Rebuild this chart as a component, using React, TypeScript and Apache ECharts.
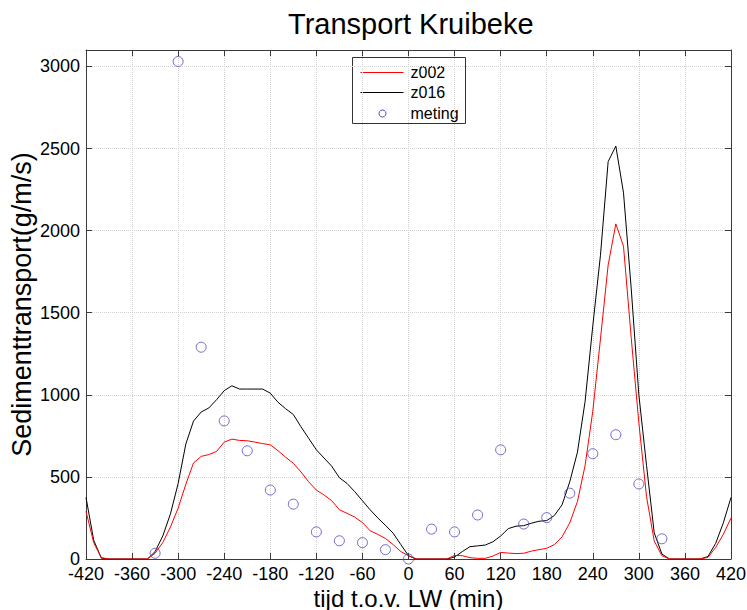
import React, { useEffect, useRef } from "react";
import * as echarts from "echarts";

const times = [
  -420, -410, -400, -390, -380, -370, -360, -350, -340, -330, -320, -310, -300, -290, -280, -270, -260,
  -250, -240, -230, -220, -210, -200, -190, -180, -170, -160, -150, -140, -130, -120, -110, -100, -90,
  -80, -70, -60, -50, -40, -30, -20, -10, 0, 10, 20, 30, 40, 50, 60, 70, 80, 90, 100, 110, 120, 130,
  140, 150, 160, 170, 180, 190, 200, 210, 220, 230, 240, 250, 260, 270, 280, 290, 300, 310, 320, 330,
  340, 350, 360, 370, 380, 390, 400, 410, 420,
];

const z016 = [
  375, 115, 5, 0, 0, 0, 0, 0, 0, 45, 140, 275, 460, 700, 840, 895, 920,
  970, 1025, 1055, 1035, 1035, 1035, 1035, 1010, 955, 915, 880, 805, 735, 665, 615, 565, 495,
  460, 410, 355, 300, 250, 205, 157, 88, 20, 0, 0, 0, 0, 0, 12, 45, 75, 80, 85, 105, 140, 185,
  200, 203, 218, 230, 234, 265, 330, 470, 650, 960, 1420, 1850, 2420, 2515, 2230, 1650, 1000, 570, 160, 30,
  0, 0, 0, 0, 0, 15, 95, 220, 375,
];

const z002 = [
  290, 100, 8, 0, 0, 0, 0, 0, 0, 35, 100, 195, 310, 455, 585, 625, 636,
  655, 712, 730, 722, 720, 712, 703, 695, 660, 620, 583, 530, 470, 420, 390, 355, 300,
  278, 255, 222, 172, 150, 125, 88, 45, 20, 0, 0, 0, 0, 0, 22, 20, 8, 4, 4, 18, 40, 36,
  33, 35, 48, 57, 65, 88, 135, 220, 350, 570, 900, 1340, 1790, 2041, 1905, 1350, 830, 380, 110, 20,
  0, 0, 0, 0, 0, 10, 70, 150, 250,
];

const metingX = [-330, -300, -270, -240, -210, -180, -150, -120, -90, -60, -30, 0, 30, 60, 90, 120, 150, 180, 210, 240, 270, 300, 330];
const metingY = [35, 3030, 1290, 841, 659, 420, 334, 165, 111, 100, 57, 0, 182, 165, 268, 665, 213, 252, 401, 641, 757, 457, 123];

const seriesNames = ["z002", "z016", "meting"];
const titleText = "Transport Kruibeke";
const xName = "tijd t.o.v. LW (min)";
const yName = "Sedimenttransport(g/m/s)";

const FONT = "'Liberation Sans', Arial, sans-serif";
const BLUE = "#4a4ac0";

export default function App() {
  const ref = useRef<HTMLDivElement>(null);
  useEffect(() => {
    if (!ref.current) return;
    document.body.style.margin = "0";
    const chart = echarts.init(ref.current, null, { renderer: "svg" });
    const axisLine = { show: true, onZero: false, lineStyle: { color: "#3a3a3a", width: 1 } };
    const tick = { show: true, inside: true, length: 6, lineStyle: { color: "#3a3a3a" } };
    const split = { show: true, lineStyle: { color: "#d2d2d2", type: "dotted" as const, width: 1 } };
    const label = { color: "#000", fontSize: 18, fontFamily: FONT };
    chart.setOption({
      animation: false,
      backgroundColor: "#fff",
      title: {
        text: titleText,
        left: 283,
        top: 4,
        textStyle: { fontSize: 29, fontWeight: "normal", color: "#000", fontFamily: FONT },
      },
      grid: { left: 86, right: 16, top: 50, bottom: 51, containLabel: false, outerBoundsMode: "none" },
      xAxis: [
        {
          type: "value",
          min: -420,
          max: 420,
          interval: 60,
          position: "bottom",
          axisLine,
          axisTick: tick,
          splitLine: split,
          axisLabel: { ...label, margin: 6 },
          name: xName,
          nameLocation: "middle",
          nameGap: 27,
          nameMoveOverlap: false,
          nameTextStyle: { fontSize: 24, color: "#000", fontFamily: FONT },
        },
        {
          type: "value",
          min: -420,
          max: 420,
          interval: 60,
          position: "top",
          axisLine,
          axisTick: tick,
          splitLine: { show: false },
          axisLabel: { show: false },
        },
      ],
      yAxis: [
        {
          type: "value",
          min: 0,
          max: 3100,
          interval: 500,
          position: "left",
          axisLine,
          axisTick: tick,
          splitLine: split,
          axisLabel: {
            ...label,
            margin: 6,
            padding: [0, 0, 6, 0],
            formatter: (v: number) => (v % 500 === 0 ? String(v) : ""),
          },
          name: yName,
          nameLocation: "middle",
          nameGap: 51,
          nameMoveOverlap: false,
          nameTextStyle: { fontSize: 27, color: "#000", fontFamily: FONT },
        },
        {
          type: "value",
          min: 0,
          max: 3100,
          interval: 500,
          position: "right",
          axisLine,
          axisTick: tick,
          splitLine: { show: false },
          axisLabel: { show: false },
        },
      ],
      series: [
        {
          name: seriesNames[0],
          type: "line",
          data: times.map((t, i) => [t, z002[i]]),
          showSymbol: false,
          symbol: "none",
          lineStyle: { color: "#ff0000", width: 1 },
          itemStyle: { color: "#ff0000" },
          z: 3,
        },
        {
          name: seriesNames[1],
          type: "line",
          data: times.map((t, i) => [t, z016[i]]),
          showSymbol: false,
          symbol: "none",
          lineStyle: { color: "#000000", width: 1 },
          itemStyle: { color: "#000000" },
          z: 2,
        },
        {
          name: seriesNames[2],
          type: "scatter",
          data: metingX.map((t, i) => [t, metingY[i]]),
          symbol: "circle",
          symbolSize: 10,
          itemStyle: { color: "rgba(0,0,0,0)", borderColor: BLUE, borderWidth: 1 },
          z: 4,
        },
      ],
      graphic: [
        {
          type: "group",
          left: 352,
          top: 57,
          z: 100,
          children: [
            { type: "rect", shape: { x: 0, y: 0, width: 113, height: 66 }, style: { fill: "#fff", stroke: "#333", lineWidth: 1 } },
            { type: "line", shape: { x1: 8, y1: 15, x2: 51, y2: 15 }, style: { stroke: "#ff0000", lineWidth: 1 } },
            { type: "text", x: 58, y: 15, style: { text: seriesNames[0], fontSize: 16, fontFamily: FONT, fill: "#000", verticalAlign: "middle" } },
            { type: "line", shape: { x1: 8, y1: 35, x2: 51, y2: 35 }, style: { stroke: "#000", lineWidth: 1 } },
            { type: "text", x: 58, y: 35, style: { text: seriesNames[1], fontSize: 16, fontFamily: FONT, fill: "#000", verticalAlign: "middle" } },
            { type: "circle", shape: { cx: 30, cy: 56, r: 3.5 }, style: { fill: "none", stroke: BLUE, lineWidth: 1 } },
            { type: "text", x: 58, y: 56, style: { text: seriesNames[2], fontSize: 16, fontFamily: FONT, fill: "#000", verticalAlign: "middle" } },
          ],
        },
      ],
    });
    return () => chart.dispose();
  }, []);
  return <div ref={ref} style={{ position: "fixed", left: 0, top: 0, width: 747, height: 610 }} />;
}
